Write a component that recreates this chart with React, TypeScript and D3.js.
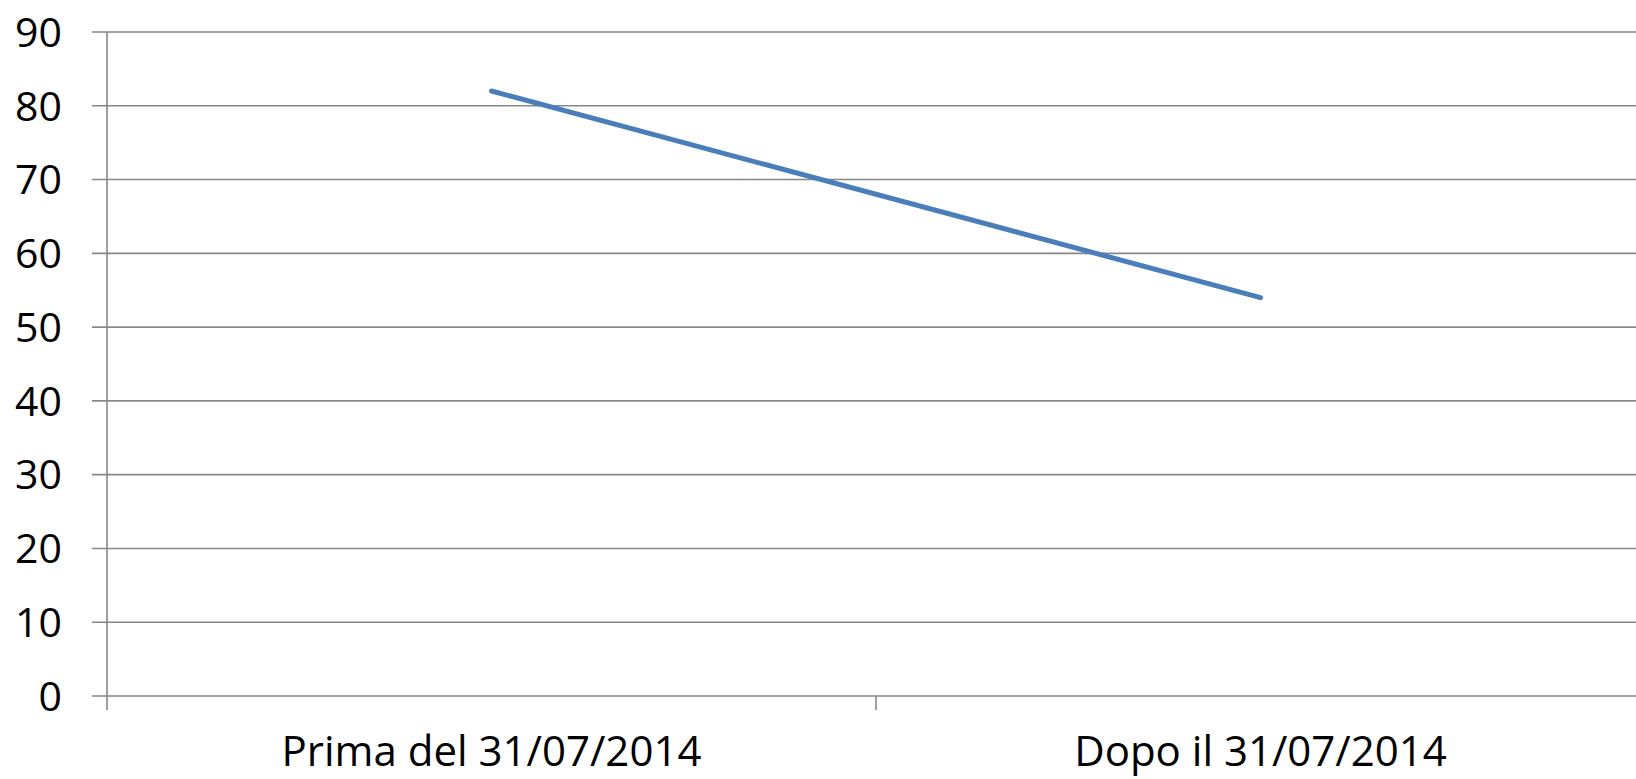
// @ts-nocheck
import * as d3 from 'd3';
import React, { useEffect, useRef } from 'react';

const categories = ['Prima del 31/07/2014', 'Dopo il 31/07/2014'];
const values = [82, 54];
const yTicks = [0, 10, 20, 30, 40, 50, 60, 70, 80, 90];

const width = 1636;
const height = 779;

export default function App() {
  const svgRef = useRef<SVGSVGElement>(null);

  useEffect(() => {
    if (!svgRef.current) return;
    const svg = d3.select(svgRef.current);
    svg.selectAll('*').remove();

    const left = 107;
    const right = 1645;
    const top = 32;
    const bottom = 696;

    const x = d3.scaleBand().domain(categories).range([left, right]).padding(0);
    const y = d3.scaleLinear().domain([0, 90]).range([bottom, top]);
    const font = '"Open Sans", sans-serif';
    const gridColor = '#878787';

    // Horizontal gridlines (extend left as ticks)
    svg
      .append('g')
      .selectAll('line')
      .data(yTicks)
      .enter()
      .append('line')
      .attr('x1', left - 15)
      .attr('x2', width)
      .attr('y1', d => y(d))
      .attr('y2', d => y(d))
      .attr('stroke', gridColor)
      .attr('stroke-width', 1.6);

    // Vertical axis line
    svg
      .append('line')
      .attr('x1', left)
      .attr('x2', left)
      .attr('y1', y(90))
      .attr('y2', bottom + 14)
      .attr('stroke', gridColor)
      .attr('stroke-width', 1.6);

    // Category boundary ticks
    const bounds = categories.map(c => x(c)).concat([right]).slice(1);
    svg
      .append('g')
      .selectAll('line')
      .data(bounds)
      .enter()
      .append('line')
      .attr('x1', d => d)
      .attr('x2', d => d)
      .attr('y1', bottom)
      .attr('y2', bottom + 14)
      .attr('stroke', gridColor)
      .attr('stroke-width', 1.6);

    // Y tick labels
    svg
      .append('g')
      .selectAll('text')
      .data(yTicks)
      .enter()
      .append('text')
      .attr('x', 62)
      .attr('y', d => y(d))
      .attr('dy', '0.36em')
      .attr('text-anchor', 'end')
      .style('font-family', font)
      .style('font-size', '41px')
      .style('fill', '#000')
      .text(d => d);

    // X labels
    svg
      .append('g')
      .selectAll('text')
      .data(categories)
      .enter()
      .append('text')
      .attr('x', d => x(d) + x.bandwidth() / 2)
      .attr('y', 766)
      .attr('text-anchor', 'middle')
      .style('font-family', font)
      .style('font-size', '42px')
      .style('fill', '#000')
      .text(d => d);

    // Line
    const line = d3
      .line<number>()
      .x((d, i) => x(categories[i]) + x.bandwidth() / 2)
      .y(d => y(d));

    svg
      .append('path')
      .datum(values)
      .attr('fill', 'none')
      .attr('stroke', '#4a7ebb')
      .attr('stroke-width', 5)
      .attr('stroke-linecap', 'round')
      .attr('d', line);
  }, []);

  return (
    <svg
      ref={svgRef}
      width={width}
      height={height}
      style={{ position: 'absolute', left: 0, top: 0, background: '#fff' }}
    />
  );
}
